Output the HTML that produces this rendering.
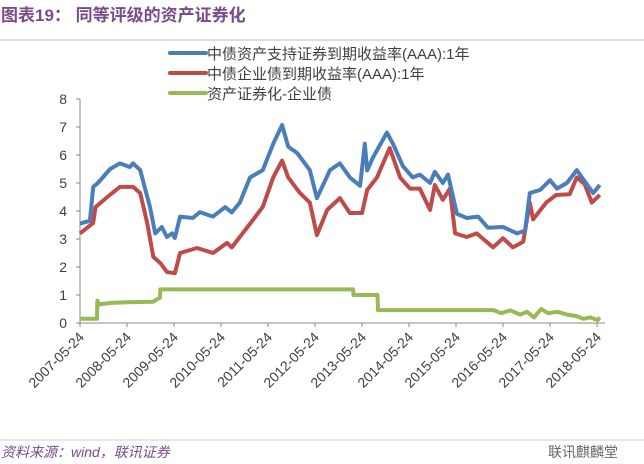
<!DOCTYPE html>
<html><head><meta charset="utf-8">
<style>
body{margin:0;background:#fff;width:644px;height:459px;overflow:hidden;font-family:"Liberation Sans","Noto Sans CJK SC",sans-serif;}
</style></head>
<body>
<svg id="chart" width="644" height="459" xmlns="http://www.w3.org/2000/svg" font-family="Liberation Sans, Noto Sans CJK SC, sans-serif">
<text x="1" y="21" font-size="17" font-weight="bold" fill="#7a4b8a">图表19：  同等评级的资产证券化</text>
<line x1="0" y1="40" x2="644" y2="40" stroke="#bbb" stroke-width="1"/>
<line x1="0" y1="440" x2="644" y2="440" stroke="#ccc" stroke-width="1"/>
<text x="1" y="457" font-size="14" font-style="italic" fill="#7a4b8a">资料来源：wind，联讯证券</text>
<text x="548" y="457" font-size="14" fill="#666">联讯麒麟堂</text>
<g id="legend"></g>
<g id="axes"></g>
<g id="series"></g>
</svg>
<script>
const yTicks=[0,1,2,3,4,5,6,7,8];
const xTickLabels=["2007-05-24","2008-05-24","2009-05-24","2010-05-24","2011-05-24","2012-05-24","2013-05-24","2014-05-24","2015-05-24","2016-05-24","2017-05-24","2018-05-24"];
const seriesNames=["中债资产支持证券到期收益率(AAA):1年","中债企业债到期收益率(AAA):1年","资产证券化-企业债"];
const blueDates=[2007.39,2007.60,2007.67,2007.77,2008.03,2008.24,2008.45,2008.52,2008.67,2008.88,2008.99,2009.13,2009.24,2009.35,2009.41,2009.52,2009.79,2009.94,2010.22,2010.48,2010.62,2010.79,2011.01,2011.28,2011.50,2011.69,2011.82,2012.01,2012.28,2012.43,2012.71,2012.92,2013.13,2013.35,2013.45,2013.50,2013.62,2013.92,2014.05,2014.26,2014.47,2014.62,2014.84,2014.94,2015.11,2015.22,2015.41,2015.62,2015.86,2016.07,2016.39,2016.69,2016.86,2016.96,2017.18,2017.39,2017.54,2017.75,2017.96,2018.09,2018.31,2018.45];
const blueValues=[3.55,3.65,4.86,5.0,5.5,5.7,5.57,5.7,5.46,4.14,3.2,3.43,3.07,3.2,3.04,3.8,3.75,3.96,3.8,4.14,3.95,4.3,5.2,5.46,6.4,7.07,6.3,6.07,5.46,4.46,5.46,5.7,5.2,4.9,6.4,5.45,5.9,6.8,6.4,5.6,5.2,5.3,5.0,5.4,5.0,5.3,3.9,3.75,3.8,3.4,3.43,3.2,3.3,4.64,4.75,5.1,4.8,5.0,5.46,5.15,4.64,4.93];
const redDates=[2007.39,2007.67,2007.72,2007.97,2008.24,2008.52,2008.67,2008.82,2008.95,2009.10,2009.24,2009.41,2009.52,2009.88,2010.22,2010.52,2010.62,2010.79,2011.08,2011.28,2011.50,2011.69,2011.82,2012.07,2012.28,2012.43,2012.65,2012.92,2013.13,2013.39,2013.50,2013.71,2013.98,2014.20,2014.41,2014.62,2014.84,2014.94,2015.11,2015.26,2015.37,2015.62,2015.83,2016.18,2016.39,2016.60,2016.82,2016.96,2017.03,2017.31,2017.52,2017.81,2017.96,2018.13,2018.28,2018.45];
const redValues=[3.2,3.57,4.14,4.5,4.86,4.86,4.64,3.57,2.36,2.14,1.82,1.78,2.5,2.68,2.5,2.86,2.7,3.07,3.7,4.15,5.2,5.8,5.2,4.64,4.3,3.14,4.04,4.46,3.93,3.93,4.75,5.2,6.25,5.2,4.8,4.8,4.04,4.93,4.4,4.8,3.2,3.07,3.2,2.7,3.03,2.7,2.9,4.3,3.7,4.3,4.57,4.6,5.2,4.95,4.3,4.57];
const greenDates=[2007.39,2007.75,2007.76,2007.80,2007.84,2008.10,2008.40,2008.95,2009.03,2009.09,2009.10,2013.20,2013.21,2013.72,2013.73,2016.19,2016.35,2016.55,2016.75,2016.90,2017.05,2017.20,2017.35,2017.55,2017.75,2017.95,2018.10,2018.25,2018.40,2018.45];
const greenValues=[0.15,0.15,0.8,0.65,0.68,0.72,0.74,0.76,0.85,0.9,1.2,1.2,1.0,1.0,0.46,0.46,0.35,0.45,0.3,0.4,0.2,0.5,0.35,0.4,0.3,0.25,0.15,0.2,0.1,0.2];
const colors=["#4a7ebb","#be4b48","#98b954"];
const NS="http://www.w3.org/2000/svg";
const X0=80,Y0=323,PXY=47,PXV=28,T0=2007.39;
function xs(d){return X0+(d-T0)*PXY;}
function ys(v){return Y0-v*PXV;}
function mk(tag,attrs,parent){const e=document.createElementNS(NS,tag);for(const k in attrs)e.setAttribute(k,attrs[k]);parent.appendChild(e);return e;}
const axes=document.getElementById('axes');
let l=mk('line',{x1:X0,y1:ys(8),x2:X0,y2:Y0,stroke:'#888'},axes);


l=mk('line',{x1:X0,y1:Y0,x2:605,y2:Y0,stroke:'#888'},axes);


yTicks.forEach(v=>{
  const t=mk('text',{x:X0-13,y:ys(v)+5,'font-size':14,'text-anchor':'end',fill:'#404040'},axes);
  t.textContent=v;
  
  
  const tk=mk('line',{x1:X0-4,y1:ys(v),x2:X0,y2:ys(v),stroke:'#888'},axes);
  
  
});
xTickLabels.forEach((s,i)=>{
  const x=xs(T0+i);
  const tk=mk('line',{x1:x,y1:Y0,x2:x,y2:Y0+4,stroke:'#888'},axes);
  
  
  const tx=x+5,ty=Y0+15;
  const t=mk('text',{x:tx,y:ty,'font-size':14,'text-anchor':'end',fill:'#404040',transform:`rotate(-45 ${tx} ${ty})`},axes);
  t.textContent=s;
  
  
});
const ser=document.getElementById('series');
[[greenDates,greenValues,2,'series-abs-minus-corp'],[redDates,redValues,1,'series-corp-yield'],[blueDates,blueValues,0,'series-abs-yield']].forEach(([d,v,c,n])=>{
  const p=d.map((dd,i)=>xs(dd).toFixed(1)+','+ys(v[i]).toFixed(1)).join(' ');
  const pl=mk('polyline',{points:p,fill:'none',stroke:colors[c],'stroke-width':4,'stroke-linejoin':'round'},ser);
  
  
});
const leg=document.getElementById('legend');
seriesNames.forEach((s,i)=>{
  const y=53+i*20;
  const ln=mk('line',{x1:170,y1:y,x2:206,y2:y,stroke:colors[i],'stroke-width':4,'stroke-linecap':'round'},leg);
  
  
  const t=mk('text',{x:207,y:y+6,'font-size':15,fill:'#404040'},leg);
  t.textContent=s;
  
  
});
</script>
</body></html>
